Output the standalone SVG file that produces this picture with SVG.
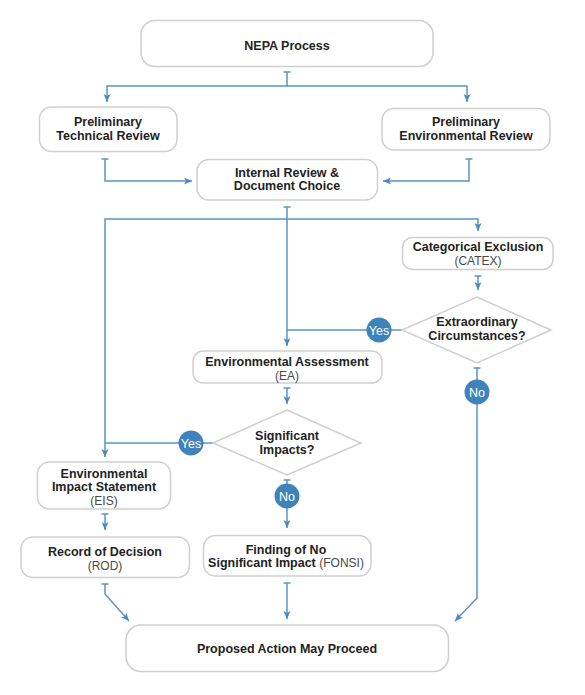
<svg xmlns="http://www.w3.org/2000/svg" width="585" height="695" viewBox="0 0 585 695">
<style>
.box{fill:#fff;stroke:#cfcfcf;stroke-width:1.5}
.t{font-family:"Liberation Sans",Arial,sans-serif;font-size:12.5px;font-weight:bold;fill:#232323;text-anchor:middle}
.s{font-family:"Liberation Sans",Arial,sans-serif;font-size:12px;fill:#4a4a4a;text-anchor:middle}
.c{fill:#3f83bb}
.ct{font-family:"Liberation Sans",Arial,sans-serif;font-size:12.5px;fill:#fff;text-anchor:middle}
.ln{fill:none;stroke:#5b94c6;stroke-width:1.5}
</style>
<defs>
<marker id="ar" markerUnits="userSpaceOnUse" markerWidth="12" markerHeight="10" viewBox="-9 -5 12 10" refX="0" refY="0" orient="auto">
<path d="M-8,-3.5 L0,0 L-8,3.5 L-6,0 Z" fill="#4a88c0"/>
</marker>
<marker id="tb" markerUnits="userSpaceOnUse" markerWidth="4" markerHeight="10" viewBox="-2 -5 4 10" refX="0" refY="0" orient="auto">
<line x1="0" y1="-3.5" x2="0" y2="3.5" stroke="#5b94c6" stroke-width="1.5"/>
</marker>
</defs>

<g id="connectors">
<path class="ln" d="M287,72 V86 H107 V102" marker-start="url(#tb)" marker-end="url(#ar)"/>
<path class="ln" d="M287,86 H467 V102" marker-end="url(#ar)"/>
<path class="ln" d="M105,159 V181 H192" marker-start="url(#tb)" marker-end="url(#ar)"/>
<path class="ln" d="M469,159 V181 H383" marker-start="url(#tb)" marker-end="url(#ar)"/>
<path class="ln" d="M287,207 V219 H105 V457" marker-start="url(#tb)" marker-end="url(#ar)"/>
<path class="ln" d="M287,219 H478 V231" marker-end="url(#ar)"/>
<path class="ln" d="M287,219 V346" marker-end="url(#ar)"/>
<path class="ln" d="M478,276 V290" marker-start="url(#tb)" marker-end="url(#ar)"/>
<path class="ln" d="M402,330 H287"/>
<path class="ln" d="M477,368 V598 L455,621" marker-start="url(#tb)" marker-end="url(#ar)"/>
<path class="ln" d="M287,388 V404" marker-start="url(#tb)" marker-end="url(#ar)"/>
<path class="ln" d="M213,443 H105"/>
<path class="ln" d="M287,480 V528" marker-start="url(#tb)" marker-end="url(#ar)"/>
<path class="ln" d="M105,514 V530" marker-start="url(#tb)" marker-end="url(#ar)"/>
<path class="ln" d="M105,584 V594 L129,621" marker-start="url(#tb)" marker-end="url(#ar)"/>
<path class="ln" d="M287,583 V619" marker-start="url(#tb)" marker-end="url(#ar)"/>
</g>

<g id="nepa">
<rect class="box" x="141" y="20.5" width="292" height="46" rx="14"/>
<text class="t" x="287" y="49.5">NEPA Process</text>
</g>
<g id="ptr">
<rect class="box" x="39.5" y="107" width="137.5" height="44.5" rx="12"/>
<text class="t" x="108" y="126">Preliminary</text>
<text class="t" x="108" y="140">Technical Review</text>
</g>
<g id="per">
<rect class="box" x="382" y="108.5" width="168" height="41.5" rx="12"/>
<text class="t" x="466" y="126">Preliminary</text>
<text class="t" x="466" y="140">Environmental Review</text>
</g>
<g id="internal">
<rect class="box" x="197" y="159.5" width="180.5" height="40.5" rx="12"/>
<text class="t" x="287" y="177">Internal Review &amp;</text>
<text class="t" x="287" y="190">Document Choice</text>
</g>
<g id="catex">
<rect class="box" x="402.5" y="237.5" width="150.5" height="32" rx="10"/>
<text class="t" x="478" y="251">Categorical Exclusion</text>
<text class="s" x="478" y="265">(CATEX)</text>
</g>
<g id="extra">
<polygon class="box" points="477,297 551,330 477,363 402,330"/>
<text class="t" x="477" y="326">Extraordinary</text>
<text class="t" x="477" y="339.5">Circumstances?</text>
</g>
<g id="yes1">
<circle class="c" cx="379" cy="330" r="12.5"/>
<text class="ct" x="379" y="334.5">Yes</text>
</g>
<g id="no1">
<circle class="c" cx="477" cy="392" r="12.5"/>
<text class="ct" x="477" y="396.5">No</text>
</g>
<g id="ea">
<rect class="box" x="193" y="351" width="189" height="32" rx="10"/>
<text class="t" x="287" y="366">Environmental Assessment</text>
<text class="s" x="287" y="380">(EA)</text>
</g>
<g id="sig">
<polygon class="box" points="287,410 361,443 287,475 213,443"/>
<text class="t" x="287" y="440">Significant</text>
<text class="t" x="287" y="453.5">Impacts?</text>
</g>
<g id="yes2">
<circle class="c" cx="191" cy="443" r="12.5"/>
<text class="ct" x="191" y="447.5">Yes</text>
</g>
<g id="no2">
<circle class="c" cx="287" cy="496" r="12.5"/>
<text class="ct" x="287" y="500.5">No</text>
</g>
<g id="eis">
<rect class="box" x="37.5" y="462" width="133" height="47" rx="12"/>
<text class="t" x="104" y="477.5">Environmental</text>
<text class="t" x="104" y="491">Impact Statement</text>
<text class="s" x="104" y="504.5">(EIS)</text>
</g>
<g id="rod">
<rect class="box" x="21" y="537" width="168.5" height="40.5" rx="12"/>
<text class="t" x="105" y="556">Record of Decision</text>
<text class="s" x="105" y="569.5">(ROD)</text>
</g>
<g id="fonsi">
<rect class="box" x="203.5" y="535.5" width="167.5" height="40.5" rx="12"/>
<text class="t" x="286" y="553.5">Finding of No</text>
<text class="t" x="286" y="567"><tspan>Significant Impact </tspan><tspan class="s" style="font-weight:normal;fill:#4a4a4a">(FONSI)</tspan></text>
</g>
<g id="proceed">
<rect class="box" x="126" y="625" width="322.5" height="46.5" rx="15"/>
<text class="t" x="287" y="653">Proposed Action May Proceed</text>
</g>
</svg>
